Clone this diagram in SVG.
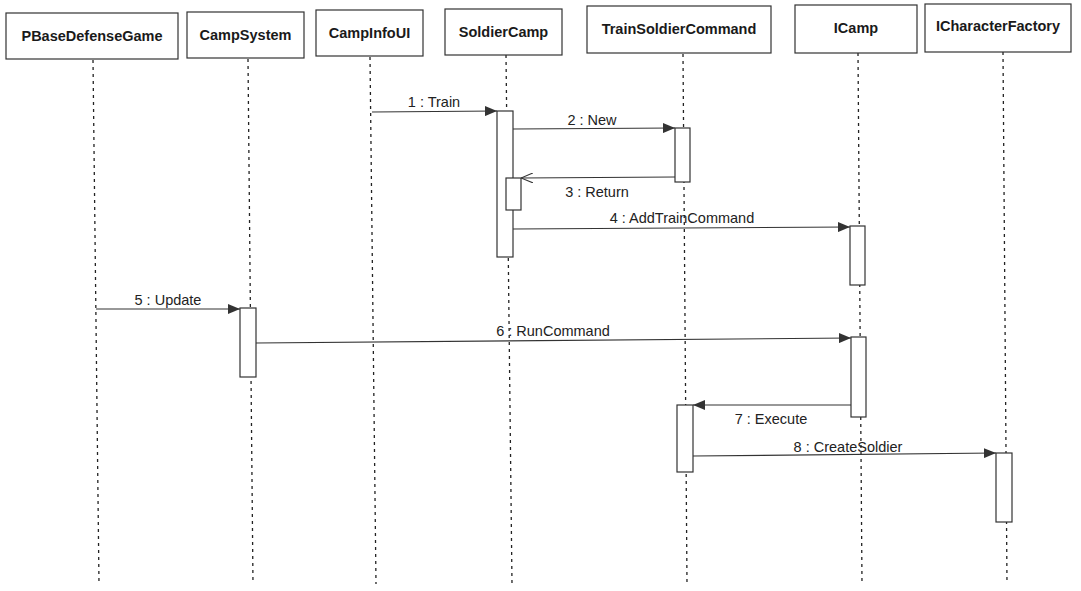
<svg xmlns="http://www.w3.org/2000/svg" width="1081" height="591" viewBox="0 0 1081 591">
<defs>
<style>
.box{fill:#fff;stroke:#333;stroke-width:1.2}
.name{font-family:"Liberation Sans",Arial,sans-serif;font-weight:bold;font-size:14.5px;fill:#1a1a1a;text-anchor:middle}
.life{stroke:#222;stroke-width:1.3;stroke-dasharray:3 4;fill:none}
.act{fill:#fff;stroke:#333;stroke-width:1.2}
.msg{stroke:#333;stroke-width:1.2;fill:none}
.lbl{font-family:"Liberation Sans",Arial,sans-serif;font-size:14.5px;fill:#222;text-anchor:middle}
</style>
<marker id="filled" viewBox="0 0 12 10" refX="12" refY="5" markerWidth="12" markerHeight="10" markerUnits="userSpaceOnUse" orient="auto">
<path d="M0,0 L12,5 L0,10 Z" fill="#333"/>
</marker>
<marker id="open" viewBox="0 0 12 10" refX="12" refY="5" markerWidth="12" markerHeight="10" markerUnits="userSpaceOnUse" orient="auto">
<path d="M0,0 L12,5 L0,10" fill="none" stroke="#333" stroke-width="1.1"/>
</marker>
</defs>
<rect width="1081" height="591" fill="#fff"/>

<g id="lifelines">
<line class="life" x1="93" y1="60" x2="99" y2="584"/>
<line class="life" x1="248" y1="59" x2="253" y2="584"/>
<line class="life" x1="370" y1="57" x2="376" y2="584"/>
<line class="life" x1="506" y1="55" x2="512" y2="584"/>
<line class="life" x1="683" y1="54" x2="687" y2="584"/>
<line class="life" x1="858" y1="53" x2="862" y2="584"/>
<line class="life" x1="1003" y1="52" x2="1007" y2="584"/>
</g>

<g id="PBaseDefenseGame">
<rect class="box" x="6" y="13" width="172" height="46"/>
<text class="name" x="92" y="41">PBaseDefenseGame</text>
</g>
<g id="CampSystem">
<rect class="box" x="187" y="12" width="117" height="46"/>
<text class="name" x="245.5" y="40">CampSystem</text>
</g>
<g id="CampInfoUI">
<rect class="box" x="316" y="10" width="107" height="46"/>
<text class="name" x="369.5" y="38">CampInfoUI</text>
</g>
<g id="SoldierCamp">
<rect class="box" x="445" y="9" width="117" height="46"/>
<text class="name" x="503.5" y="37">SoldierCamp</text>
</g>
<g id="TrainSoldierCommand">
<rect class="box" x="587" y="6" width="184" height="47"/>
<text class="name" x="679" y="34">TrainSoldierCommand</text>
</g>
<g id="ICamp">
<rect class="box" x="795" y="5" width="122" height="48"/>
<text class="name" x="856" y="33">ICamp</text>
</g>
<g id="ICharacterFactory">
<rect class="box" x="925" y="4" width="146" height="48"/>
<text class="name" x="998" y="31">ICharacterFactory</text>
</g>

<g id="activations">
<rect class="act" x="497" y="111" width="16" height="146"/>
<rect class="act" x="675" y="128" width="15" height="54"/>
<rect class="act" x="506" y="178" width="15" height="32"/>
<rect class="act" x="850" y="226" width="15" height="59"/>
<rect class="act" x="240" y="308" width="16" height="69"/>
<rect class="act" x="851" y="337" width="15" height="80"/>
<rect class="act" x="677" y="405" width="16" height="67"/>
<rect class="act" x="996" y="453" width="16" height="69"/>
</g>

<g id="connectors">
<line class="msg" x1="372" y1="112" x2="497" y2="111" marker-end="url(#filled)"/>
<text class="lbl" x="434" y="107">1 : Train</text>
<line class="msg" x1="513" y1="129" x2="675" y2="128" marker-end="url(#filled)"/>
<text class="lbl" x="592" y="125">2 : New</text>
<line class="msg" x1="675" y1="177" x2="521" y2="178" marker-end="url(#open)"/>
<text class="lbl" x="597" y="197">3 : Return</text>
<line class="msg" x1="513" y1="229" x2="850" y2="227" marker-end="url(#filled)"/>
<text class="lbl" x="682" y="223">4 : AddTrainCommand</text>
<line class="msg" x1="96" y1="309" x2="240" y2="309" marker-end="url(#filled)"/>
<text class="lbl" x="168" y="305">5 : Update</text>
<line class="msg" x1="256" y1="343" x2="851" y2="338" marker-end="url(#filled)"/>
<text class="lbl" x="553" y="336">6 : RunCommand</text>
<line class="msg" x1="851" y1="405" x2="693" y2="405" marker-end="url(#filled)"/>
<text class="lbl" x="771" y="424">7 : Execute</text>
<line class="msg" x1="693" y1="456" x2="996" y2="453" marker-end="url(#filled)"/>
<text class="lbl" x="848" y="452">8 : CreateSoldier</text>
</g>
</svg>
